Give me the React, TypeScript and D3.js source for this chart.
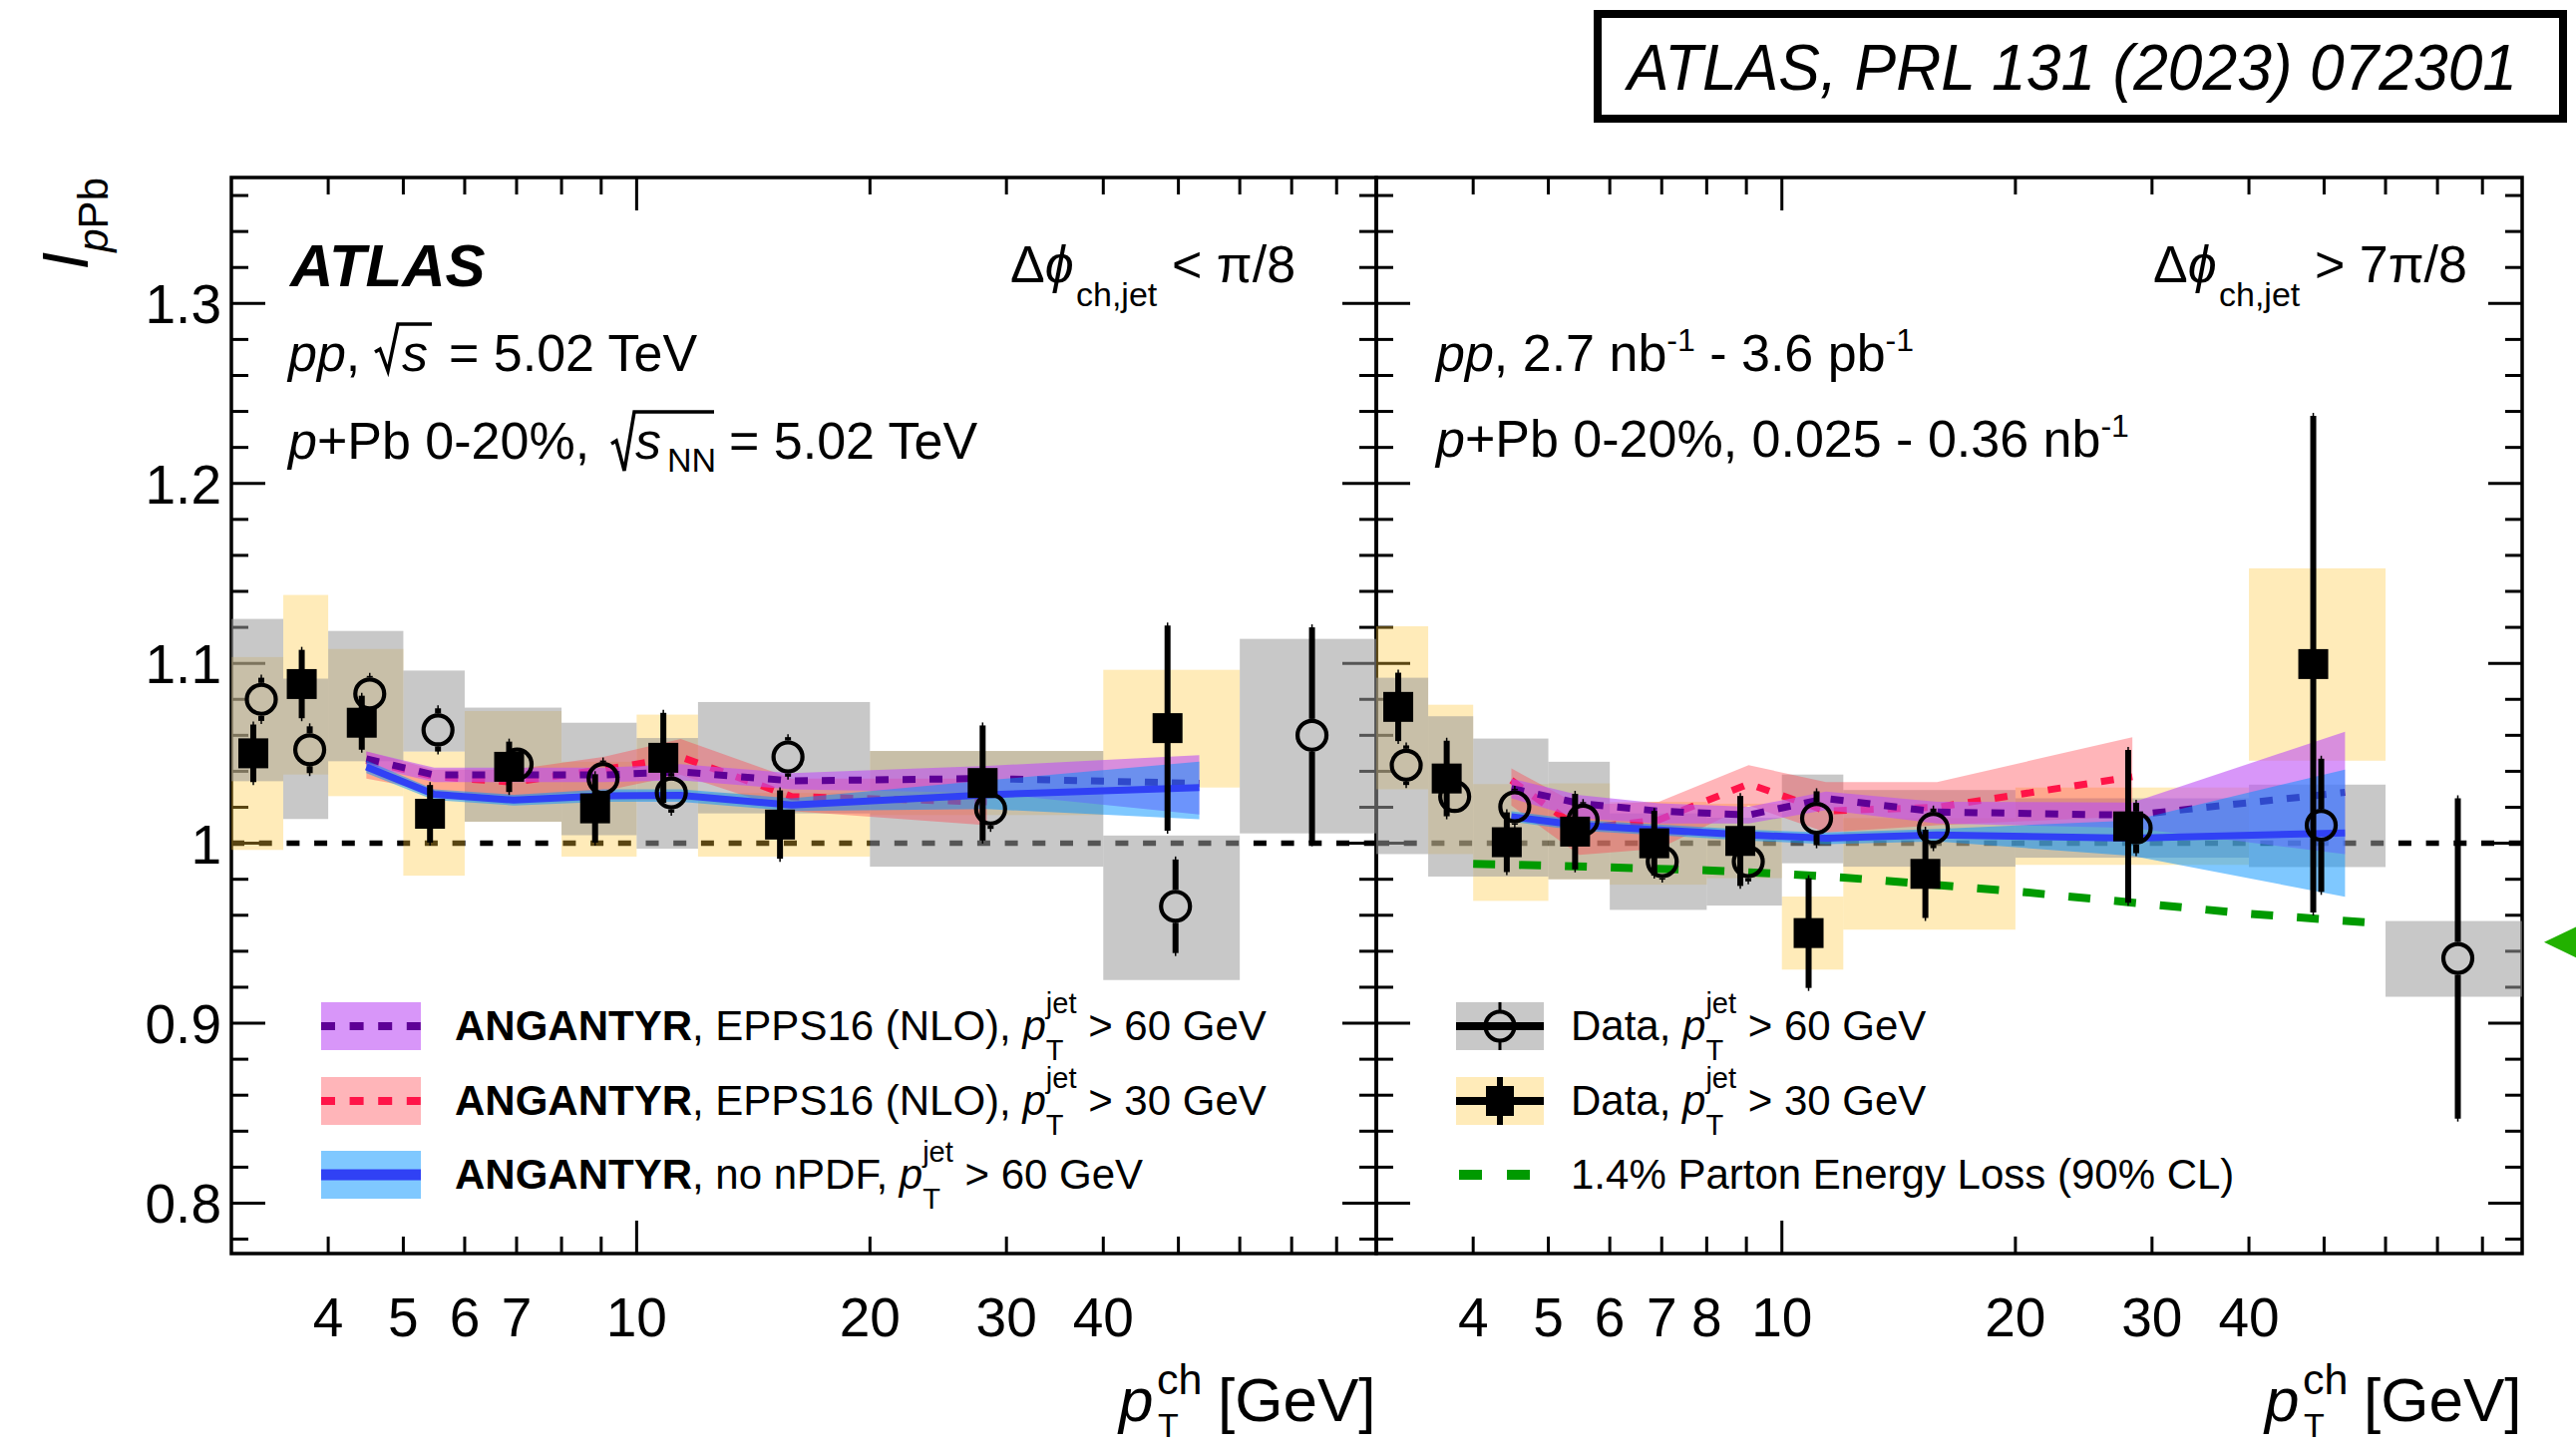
import React from "react";
import * as d3 from "d3";

const FONT = "'Liberation Sans', Arial, Helvetica, sans-serif";

// pT^ch bins [GeV]
const binLo = [3, 3.5, 4, 5, 6, 8, 10, 12, 20, 40, 60];
const binHi = [3.5, 4, 5, 6, 8, 10, 12, 20, 40, 60, 90];

// near side, dphi < pi/8, pT^jet > 60 GeV (open circles, grey sys boxes)
const nearJet60Val = [1.08, 1.052, 1.083, 1.063, 1.044, 1.036, 1.028, 1.048, 1.019, 0.965, 1.06];
const nearJet60Stat = [0.012, 0.013, 0.01, 0.012, 0.009, 0.01, 0.011, 0.011, 0.011, 0.026, 0.06];
const nearJet60SysLo = [1.0345, 1.0135, 1.0456, 1.051, 1.012, 1.0045, 0.997, 1.0166, 0.987, 0.924, 1.0055];
const nearJet60SysHi = [1.1247, 1.0915, 1.118, 1.096, 1.0754, 1.067, 1.0585, 1.0785, 1.0513, 1.0043, 1.1136];

// near side, pT^jet > 30 GeV (filled squares, yellow sys boxes)
const nearJet30Val = [1.05, 1.0885, 1.067, 1.0164, 1.0425, 1.0194, 1.0475, 1.0104, 1.0335, 1.064];
const nearJet30Stat = [0.016, 0.019, 0.015, 0.016, 0.014, 0.019, 0.025, 0.019, 0.032, 0.057];
const nearJet30SysLo = [0.9963, 1.0382, 1.0262, 0.982, 1.012, 0.9926, 1.0235, 0.9926, 1.0157, 1.031];
const nearJet30SysHi = [1.1035, 1.138, 1.108, 1.051, 1.0735, 1.0453, 1.0715, 1.028, 1.0513, 1.0964];

// away side, dphi > 7pi/8
const awayJet60Val = [1.0434, 1.026, 1.0203, 1.0129, 0.9898, 0.9898, 1.0139, 1.0083, 1.0085, 1.01, 0.936];
const awayJet60Stat = [0.011, 0.009, 0.01, 0.01, 0.01, 0.011, 0.015, 0.011, 0.014, 0.037, 0.089];
const awayJet60SysLo = [0.994, 0.9815, 0.9815, 0.98, 0.963, 0.9654, 0.9889, 0.987, 0.992, 0.9868, 0.9147];
const awayJet60SysHi = [1.092, 1.0706, 1.0582, 1.0453, 1.0166, 1.0142, 1.0382, 1.0296, 1.025, 1.0326, 0.9568];

const awayJet30Val = [1.0758, 1.036, 1.0006, 1.0065, 1.0, 1.0013, 0.9501, 0.983, 1.0094, 1.0996];
const awayJet30Stat = [0.019, 0.021, 0.0166, 0.021, 0.018, 0.025, 0.0305, 0.0245, 0.0425, 0.138];
const awayJet30SysLo = [1.03, 0.994, 0.968, 0.98, 0.977, 0.9806, 0.9298, 0.952, 0.988, 1.0459];
const awayJet30SysHi = [1.1206, 1.077, 1.0329, 1.0333, 1.023, 1.022, 0.9704, 1.014, 1.031, 1.1528];

// ANGANTYR predictions
const theoryPt = [4.48, 5.48, 6.94, 9.06, 11.4, 15.85, 28.3, 53.2];

const nearEpps60 = [1.047, 1.038, 1.038, 1.038, 1.0397, 1.0347, 1.036, 1.0333];
const nearEpps60Lo = [1.043, 1.034, 1.034, 1.034, 1.035, 1.03, 1.028, 1.016];
const nearEpps60Hi = [1.051, 1.042, 1.042, 1.042, 1.044, 1.039, 1.043, 1.049];
const nearEpps30 = [1.046, 1.037, 1.034, 1.041, 1.048, 1.026, 1.023];
const nearEpps30Lo = [1.036, 1.029, 1.026, 1.029, 1.038, 1.018, 1.01];
const nearEpps30Hi = [1.051, 1.041, 1.041, 1.048, 1.058, 1.036, 1.036];
const nearNoNpdf = [1.0425, 1.0272, 1.024, 1.0264, 1.0266, 1.0212, 1.027, 1.031];
const nearNoNpdfLo = [1.039, 1.024, 1.021, 1.023, 1.023, 1.018, 1.019, 1.0134];
const nearNoNpdfHi = [1.046, 1.03, 1.027, 1.03, 1.03, 1.025, 1.035, 1.0453];

const awayEpps60 = [1.0305, 1.0222, 1.0179, 1.0157, 1.0249, 1.0174, 1.0156, 1.0283];
const awayEpps60Lo = [1.025, 1.0139, 1.011, 1.011, 1.0185, 1.011, 1.0085, 0.994];
const awayEpps60Hi = [1.036, 1.0268, 1.0222, 1.0203, 1.0287, 1.023, 1.0227, 1.062];
const awayEpps30 = [1.035, 1.008, 1.013, 1.033, 1.018, 1.02, 1.037];
const awayEpps30Lo = [1.021, 0.9935, 0.997, 1.021, 1.006, 1.01, 1.015];
const awayEpps30Hi = [1.0416, 1.0212, 1.023, 1.0434, 1.034, 1.034, 1.059];
const awayNoNpdf = [1.0148, 1.01, 1.0074, 1.0046, 1.0028, 1.0046, 1.0029, 1.0057];
const awayNoNpdfLo = [1.012, 1.007, 1.0045, 1.0015, 0.9995, 1.001, 0.993, 0.9703];
const awayNoNpdfHi = [1.0178, 1.013, 1.0105, 1.0075, 1.006, 1.008, 1.0127, 1.041];

// 1.4% parton energy loss (90% CL)
const elossPt = [4, 5, 6, 8, 10, 12, 20, 40, 60];
const elossVal = [0.9885, 0.9876, 0.9866, 0.985, 0.983, 0.981, 0.9733, 0.9608, 0.9553];
const elossArrowVal = 0.945;

const yTickLabels = [0.8, 0.9, 1, 1.1, 1.2, 1.3];
const xLabelsNear = [4, 5, 6, 7, 10, 20, 30, 40];
const xLabelsAway = [4, 5, 6, 7, 8, 10, 20, 30, 40];
const xTickVals = [4, 5, 6, 7, 8, 9, 10, 20, 30, 40, 50, 60, 70, 80];
const yTickVals = d3.range(39, 69).map((i) => +(i * 0.02).toFixed(2));

const col = {
  yellow: "rgba(255,198,55,0.35)",
  gray: "rgba(155,155,155,0.55)",
  pink: "rgba(255,60,70,0.38)",
  red: "#ff1448",
  violet: "rgba(190,80,245,0.6)",
  purple: "#5e0096",
  lightBlue: "rgba(0,145,255,0.5)",
  blue: "#3041f5",
  green: "#009a00",
};

const Y_TOP = 178;
const Y_BOT = 1257;
const ys = d3.scaleLinear().domain([0.772, 1.37]).range([Y_BOT, Y_TOP]);

const makeData = (vals, stat, lo, hi) =>
  vals.map((v, i) => ({ lo: binLo[i], hi: binHi[i], v, s: stat[i], sl: lo[i], sh: hi[i] }));

const makeBand = (pts, c, lo, hi) => c.map((v, i) => ({ x: pts[i], v, lo: lo[i], hi: hi[i] }));

const panels = [
  {
    id: "near",
    x0: 232,
    x1: 1380,
    jet60: makeData(nearJet60Val, nearJet60Stat, nearJet60SysLo, nearJet60SysHi),
    jet30: makeData(nearJet30Val, nearJet30Stat, nearJet30SysLo, nearJet30SysHi),
    epps30: makeBand(theoryPt, nearEpps30, nearEpps30Lo, nearEpps30Hi),
    epps60: makeBand(theoryPt, nearEpps60, nearEpps60Lo, nearEpps60Hi),
    nonpdf: makeBand(theoryPt, nearNoNpdf, nearNoNpdfLo, nearNoNpdfHi),
    xLabels: xLabelsNear,
  },
  {
    id: "away",
    x0: 1380,
    x1: 2529,
    jet60: makeData(awayJet60Val, awayJet60Stat, awayJet60SysLo, awayJet60SysHi),
    jet30: makeData(awayJet30Val, awayJet30Stat, awayJet30SysLo, awayJet30SysHi),
    epps30: makeBand(theoryPt, awayEpps30, awayEpps30Lo, awayEpps30Hi),
    epps60: makeBand(theoryPt, awayEpps60, awayEpps60Lo, awayEpps60Hi),
    nonpdf: makeBand(theoryPt, awayNoNpdf, awayNoNpdfLo, awayNoNpdfHi),
    xLabels: xLabelsAway,
  },
].map((p) => ({ ...p, xs: d3.scaleLog().domain([3, 90]).range([p.x0, p.x1]) }));

const isMajor = (v) => Math.abs(v * 10 - Math.round(v * 10)) < 1e-6;

const frameLayer = (p) => (
  <g key={"frame" + p.id}>
    <line x1={p.x0} x2={p.x1} y1={ys(1)} y2={ys(1)} stroke="#000" strokeWidth={5.5} strokeDasharray="13 14.7" />
    {yTickVals.map((v) => {
      const L = isMajor(v) ? 34 : 17;
      const y = ys(v);
      return (
        <g key={v} stroke="#000" strokeWidth={3}>
          <line x1={p.x0} x2={p.x0 + L} y1={y} y2={y} />
          <line x1={p.x1} x2={p.x1 - L} y1={y} y2={y} />
        </g>
      );
    })}
    {xTickVals.map((v) => {
      const L = v === 10 ? 33 : 17;
      const x = p.xs(v);
      return (
        <g key={v} stroke="#000" strokeWidth={3}>
          <line x1={x} x2={x} y1={Y_BOT} y2={Y_BOT - L} />
          <line x1={x} x2={x} y1={Y_TOP} y2={Y_TOP + L} />
        </g>
      );
    })}
    <rect x={p.x0} y={Y_TOP} width={p.x1 - p.x0} height={Y_BOT - Y_TOP} fill="none" stroke="#000" strokeWidth={3.5} />
  </g>
);

const boxLayer = (p) => (
  <g key={"box" + p.id}>
    {p.jet30.map((d, i) => (
      <rect key={"y" + i} x={p.xs(d.lo)} width={p.xs(d.hi) - p.xs(d.lo)} y={ys(d.sh)} height={ys(d.sl) - ys(d.sh)} fill={col.yellow} />
    ))}
    {p.jet60.map((d, i) => (
      <rect key={"g" + i} x={p.xs(d.lo)} width={p.xs(d.hi) - p.xs(d.lo)} y={ys(d.sh)} height={ys(d.sl) - ys(d.sh)} fill={col.gray} />
    ))}
  </g>
);

const theoryLayer = (p) => {
  const area = d3.area().x((d) => p.xs(d.x)).y0((d) => ys(d.lo)).y1((d) => ys(d.hi));
  const line = d3.line().x((d) => p.xs(d.x)).y((d) => ys(d.v));
  return (
    <g key={"th" + p.id}>
      <path d={area(p.epps30)} fill={col.pink} />
      <path d={line(p.epps30)} fill="none" stroke={col.red} strokeWidth={7} strokeDasharray="13 14" />
      <path d={area(p.epps60)} fill={col.violet} />
      <path d={line(p.epps60)} fill="none" stroke={col.purple} strokeWidth={7} strokeDasharray="13 14" />
      <path d={area(p.nonpdf)} fill={col.lightBlue} />
      <path d={line(p.nonpdf)} fill="none" stroke={col.blue} strokeWidth={7} />
    </g>
  );
};

const elossLayer = (p) => {
  const line = d3.line().x((d) => p.xs(d[0])).y((d) => ys(d[1]));
  const pts = elossPt.map((x, i) => [x, elossVal[i]]);
  const ya = ys(elossArrowVal);
  return (
    <g key="eloss">
      <path d={line(pts)} fill="none" stroke={col.green} strokeWidth={8} strokeDasharray="22 24" />
      <path d={`M2551,${ya} L2605,${ya - 26} L2605,${ya + 26} Z`} fill="#22b100" />
    </g>
  );
};

const R = 14.5;
const markerLayer = (p) => (
  <g key={"mk" + p.id}>
    {p.jet30.map((d, i) => {
      const cx = p.xs(Math.sqrt(d.lo * d.hi)) - 4;
      const cy = ys(d.v);
      const yt = ys(d.v + d.s);
      const yb = ys(d.v - d.s);
      return (
        <g key={"s" + i}>
          <line x1={cx} x2={cx} y1={yt - 3} y2={yb + 3} stroke="#000" strokeWidth={1.5} />
          <line x1={cx} x2={cx} y1={yt} y2={yb} stroke="#000" strokeWidth={6} />
          <rect x={cx - 15} y={cy - 15} width={30} height={30} fill="#000" />
        </g>
      );
    })}
    {p.jet60.map((d, i) => {
      const cx = p.xs(Math.sqrt(d.lo * d.hi)) + 4;
      const cy = ys(d.v);
      const yt = ys(d.v + d.s);
      const yb = ys(d.v - d.s);
      const r = R + 2;
      return (
        <g key={"c" + i}>
          {cy - yt > r && (
            <>
              <line x1={cx} x2={cx} y1={yt - 3} y2={cy - r} stroke="#000" strokeWidth={1.5} />
              <line x1={cx} x2={cx} y1={yt} y2={cy - r} stroke="#000" strokeWidth={6} />
              <line x1={cx} x2={cx} y1={cy + r} y2={yb + 3} stroke="#000" strokeWidth={1.5} />
              <line x1={cx} x2={cx} y1={cy + r} y2={yb} stroke="#000" strokeWidth={6} />
            </>
          )}
          <circle cx={cx} cy={cy} r={R} fill="none" stroke="#000" strokeWidth={4.2} />
        </g>
      );
    })}
  </g>
);

const axisLabels = (p) => (
  <g key={"lab" + p.id} fontSize={55}>
    {p.xLabels.map((v) => (
      <text key={v} x={p.xs(v)} y={1340} textAnchor="middle">
        {v}
      </text>
    ))}
    <text x={p.x1 - 258} y={1425} fontSize={62} fontStyle="italic">p</text>
    <text x={p.x1 - 220} y={1398} fontSize={43}>ch</text>
    <text x={p.x1 - 219} y={1441} fontSize={34}>T</text>
    <text x={p.x1 - 159} y={1425} fontSize={62}>[GeV]</text>
  </g>
);

// p_T^jet with stacked sub/superscript
const PtJet = ({ rest }) => (
  <>
    <tspan fontStyle="italic">p</tspan>
    <tspan dy={-27} fontSize={29}>jet</tspan>
    <tspan dx={-30.6} dy={47} fontSize={29}>T</tspan>
    <tspan dx={12.9} dy={-20}>{rest}</tspan>
  </>
);

const leftLegend = [
  { fill: col.violet, stroke: col.purple, dash: "14 14.6", w: 8, txt: ", EPPS16 (NLO), ", cut: " > 60 GeV" },
  { fill: col.pink, stroke: col.red, dash: "14 14.6", w: 8, txt: ", EPPS16 (NLO), ", cut: " > 30 GeV" },
  { fill: col.lightBlue, stroke: col.blue, dash: null, w: 11, txt: ", no nPDF, ", cut: " > 60 GeV" },
];
const legendRowY = [1029, 1104, 1178];

const App = () => (
  <svg
    width={2583}
    height={1453}
    style={{ position: "absolute", left: 0, top: 0, whiteSpace: "pre" }}
    fontFamily={FONT}
  >
    <rect width={2583} height={1453} fill="#fff" />
    {panels.map(frameLayer)}
    {panels.map(boxLayer)}
    {panels.map(theoryLayer)}
    {elossLayer(panels[1])}
    {panels.map(markerLayer)}
    {panels.map(axisLabels)}

    {/* y tick labels */}
    <g fontSize={55} textAnchor="end">
      {yTickLabels.map((v) => (
        <text key={v} x={222} y={ys(v) + 20}>
          {v === 1 ? "1" : v.toFixed(1)}
        </text>
      ))}
    </g>

    {/* y title */}
    <text transform="translate(88,178) rotate(-90)" textAnchor="end" fontSize={64}>
      <tspan fontStyle="italic">I</tspan>
      <tspan dy={20} fontSize={42}>
        <tspan fontStyle="italic">p</tspan>Pb
      </tspan>
    </text>

    {/* publication box */}
    <rect x={1602} y={14} width={968} height={105} fill="#fff" stroke="#000" strokeWidth={8} />
    <text x={1632} y={90} fontSize={64} fontStyle="italic" textLength={892} lengthAdjust="spacingAndGlyphs">
      ATLAS, PRL 131 (2023) 072301
    </text>

    {/* left panel header */}
    <text x={291} y={287} fontSize={60} fontWeight="bold" fontStyle="italic">ATLAS</text>
    <g fontSize={52}>
      <text x={289} y={372}>
        <tspan fontStyle="italic">pp</tspan>,
      </text>
      <path d="M376,353 L381,350 L389,372 L399,325 H433" fill="none" stroke="#000" strokeWidth={3.5} />
      <text x={403} y={372} fontStyle="italic">s</text>
      <text x={450} y={372}>= 5.02 TeV</text>

      <text x={289} y={460}>
        <tspan fontStyle="italic">p</tspan>+Pb 0-20%,
      </text>
      <path d="M613,445 L618,442 L626,472 L636,413 H716" fill="none" stroke="#000" strokeWidth={3.5} />
      <text x={637} y={460} fontStyle="italic">s</text>
      <text x={669} y={473} fontSize={34}>NN</text>
      <text x={731} y={460}>= 5.02 TeV</text>

      <text x={1013} y={283}>
        Δ<tspan fontStyle="italic">ϕ</tspan>
      </text>
      <text x={1079} y={307} fontSize={34}>ch,jet</text>
      <text x={1175} y={283}>{"< π/8"}</text>

      {/* right panel header */}
      <text x={2159} y={283}>
        Δ<tspan fontStyle="italic">ϕ</tspan>
      </text>
      <text x={2225} y={307} fontSize={34}>ch,jet</text>
      <text x={2321} y={283}>{"> 7π/8"}</text>

      <text x={1440} y={372}>
        <tspan fontStyle="italic">pp</tspan>
        <tspan>, 2.7 nb</tspan>
        <tspan dy={-20} fontSize={32}>-1</tspan>
        <tspan dy={20}> - 3.6 pb</tspan>
        <tspan dy={-20} fontSize={32}>-1</tspan>
      </text>
      <text x={1440} y={458}>
        <tspan fontStyle="italic">p</tspan>
        <tspan>+Pb 0-20%, 0.025 - 0.36 nb</tspan>
        <tspan dy={-20} fontSize={32}>-1</tspan>
      </text>
    </g>

    {/* left legend */}
    <g fontSize={42}>
      {leftLegend.map((l, i) => {
        const cy = legendRowY[i];
        return (
          <g key={i}>
            <rect x={322} y={cy - 24} width={100} height={48} fill={l.fill} />
            <line x1={322} x2={422} y1={cy} y2={cy} stroke={l.stroke} strokeWidth={l.w} strokeDasharray={l.dash || undefined} />
            <text x={456} y={cy + 14}>
              <tspan fontWeight="bold">ANGANTYR</tspan>
              <tspan>{l.txt}</tspan>
              <PtJet rest={l.cut} />
            </text>
          </g>
        );
      })}
    </g>

    {/* right legend */}
    <g fontSize={42}>
      <rect x={1460} y={legendRowY[0] - 24} width={88} height={48} fill={col.gray} />
      <line x1={1460} x2={1548} y1={legendRowY[0]} y2={legendRowY[0]} stroke="#000" strokeWidth={8} />
      <line x1={1504} x2={1504} y1={legendRowY[0] - 24} y2={legendRowY[0] + 24} stroke="#000" strokeWidth={3} />
      <circle cx={1504} cy={legendRowY[0]} r={R} fill={"rgb(200,200,200)"} stroke="#000" strokeWidth={4.2} />
      <line x1={1490} x2={1518} y1={legendRowY[0]} y2={legendRowY[0]} stroke="#000" strokeWidth={8} />
      <text x={1575} y={legendRowY[0] + 14}>
        <tspan>Data, </tspan>
        <PtJet rest=" > 60 GeV" />
      </text>

      <rect x={1460} y={legendRowY[1] - 24} width={88} height={48} fill={col.yellow} />
      <line x1={1460} x2={1548} y1={legendRowY[1]} y2={legendRowY[1]} stroke="#000" strokeWidth={8} />
      <line x1={1504} x2={1504} y1={legendRowY[1] - 24} y2={legendRowY[1] + 24} stroke="#000" strokeWidth={6} />
      <rect x={1504 - 14} y={legendRowY[1] - 15} width={28} height={30} fill="#000" />
      <text x={1575} y={legendRowY[1] + 14}>
        <tspan>Data, </tspan>
        <PtJet rest=" > 30 GeV" />
      </text>

      <line x1={1463} x2={1540} y1={legendRowY[2]} y2={legendRowY[2]} stroke={col.green} strokeWidth={10} strokeDasharray="23 25" />
      <text x={1575} y={legendRowY[2] + 14}>1.4% Parton Energy Loss (90% CL)</text>
    </g>
  </svg>
);

export default App;
